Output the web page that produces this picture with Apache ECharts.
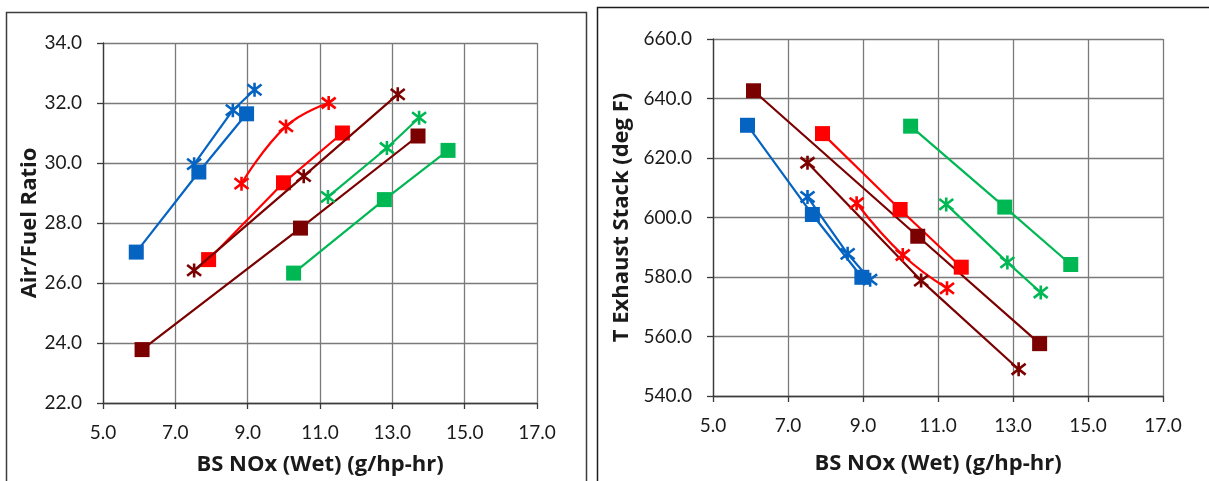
<!DOCTYPE html>
<html>
<head>
<meta charset="utf-8">
<script src="https://cdn.jsdelivr.net/npm/echarts@6/dist/echarts.min.js"></script>
<style>
html,body{margin:0;padding:0;background:#fff;}
#c{width:1209px;height:481px;}
</style>
</head>
<body>
<div id="c"></div>
<script>
// ---- Data (x = BS NOx wet, g/hp-hr) ----
const blueSqX   = [5.92, 7.65, 8.97];
const blueStX   = [7.52, 8.59, 9.19];
const redSqX    = [7.92, 9.99, 11.62];
const redStX    = [8.83, 10.06, 11.24];
const maroonSqX = [6.08, 10.46, 13.71];
const maroonStX = [7.52, 10.55, 13.15];
const greenSqX  = [10.27, 12.78, 14.54];
const greenStX  = [11.22, 12.85, 13.74];

// Left chart: Air/Fuel Ratio
const afBlueSq   = [27.03, 29.70, 31.64];
const afBlueSt   = [29.96, 31.76, 32.44];
const afRedSq    = [26.78, 29.34, 31.00];
const afRedSt    = [29.31, 31.22, 32.00];
const afMaroonSq = [23.78, 27.83, 30.90];
const afMaroonSt = [26.42, 29.56, 32.29];
const afGreenSq  = [26.33, 28.78, 30.42];
const afGreenSt  = [28.87, 30.50, 31.51];

// Right chart: T Exhaust Stack (deg F)
const tBlueSq   = [631.0, 601.0, 579.9];
const tBlueSt   = [606.9, 587.8, 579.1];
const tRedSq    = [628.2, 602.7, 583.3];
const tRedSt    = [604.8, 587.4, 576.2];
const tMaroonSq = [642.6, 593.7, 557.6];
const tMaroonSt = [618.4, 578.8, 549.0];
const tGreenSq  = [630.7, 603.5, 584.2];
const tGreenSt  = [604.4, 584.9, 574.8];

// Axis ranges / tick steps
const xRange = [5, 17, 2];
const afRange = [22, 34, 2];
const tRange = [540, 660, 20];

const xTitle = 'BS NOx (Wet) (g/hp-hr)';
const afTitle = 'Air/Fuel Ratio';
const tTitle = 'T Exhaust Stack (deg F)';

// ---- Styles ----
const C = {blue:'#0563C1', red:'#FF0000', maroon:'#7B0000', green:'#00B853'};
const FONT = 'Lato';
const TFONT = 'Open Sans';
const STAR = 'path://M0,0L10,10M10,0L0,10M5,-1.5L5,11.5';

function zip(xs, ys){ return xs.map((x,i)=>[x, ys[i]]); }

function mkSeries(gi, name, xs, ys, color, kind, smooth){
  const isSq = kind === 'sq';
  return {
    name, type:'line', xAxisIndex:gi, yAxisIndex:gi,
    data: zip(xs, ys),
    smooth: smooth ? 0.45 : false,
    symbol: isSq ? 'rect' : STAR,
    symbolSize: isSq ? 15 : 14,
    lineStyle:{color, width:2.2},
    itemStyle: isSq ? {color, borderColor:color, borderWidth:0}
                    : {color:'rgba(0,0,0,0)', borderColor:color, borderWidth:2.6},
    emphasis:{disabled:true},
    animation:false, z: isSq ? 3 : 4
  };
}

function xAxisCfg(gi, gap){
  return {
    type:'value', gridIndex:gi, min:xRange[0], max:xRange[1], interval:xRange[2],
    name:xTitle, nameLocation:'middle', nameGap:gap,
    nameTextStyle:{fontFamily:TFONT, fontWeight:'bold', fontSize:22, color:'#1a1a1a'},
    axisLine:{show:true, onZero:false, lineStyle:{color:'#3a3a3a', width:1.3}},
    axisTick:{show:true, inside:false, length:6, lineStyle:{color:'#3a3a3a', width:1.3}},
    axisLabel:{fontFamily:FONT, fontSize:19, color:'#1a1a1a', margin:20,
      formatter:v=>v.toFixed(1)},
    splitLine:{show:true, lineStyle:{color:'#7a7a7a', width:1.3}}
  };
}
function yAxisCfg(gi, r, title, gap){
  return {
    type:'value', gridIndex:gi, min:r[0], max:r[1], interval:r[2],
    name:title, nameLocation:'middle', nameGap:gap, nameRotate:90,
    nameTextStyle:{fontFamily:TFONT, fontWeight:'bold', fontSize:22, color:'#1a1a1a'},
    axisLine:{show:true, onZero:false, lineStyle:{color:'#3a3a3a', width:1.3}},
    axisTick:{show:true, inside:false, length:6, lineStyle:{color:'#3a3a3a', width:1.3}},
    axisLabel:{fontFamily:FONT, fontSize:19, color:'#1a1a1a', margin:21,
      formatter:v=>v.toFixed(1)},
    splitLine:{show:true, lineStyle:{color:'#7a7a7a', width:1.3}}
  };
}

const chart = echarts.init(document.getElementById('c'), null, {renderer:'canvas'});
chart.setOption({
  backgroundColor:'#ffffff',
  animation:false,
  graphic:[
    {type:'rect', shape:{x:6.5, y:12.5, width:580, height:490}, silent:true,
     style:{fill:'none', stroke:'#3c3c3c', lineWidth:1.5}, z:-10},
    {type:'rect', shape:{x:597.5, y:7.5, width:630, height:490}, silent:true,
     style:{fill:'none', stroke:'#1c1c1c', lineWidth:1.5}, z:-10}
  ],
  grid:[
    {left:103, top:43, width:434, height:360},
    {left:713, top:39, width:450, height:357}
  ],
  xAxis:[xAxisCfg(0, 51), xAxisCfg(1, 57)],
  yAxis:[yAxisCfg(0, afRange, afTitle, 60), yAxisCfg(1, tRange, tTitle, 80)],
  series:[
    mkSeries(0,'blueSq', blueSqX, afBlueSq, C.blue,'sq'),
    mkSeries(0,'blueSt', blueStX, afBlueSt, C.blue,'st'),
    mkSeries(0,'redSq', redSqX, afRedSq, C.red,'sq'),
    mkSeries(0,'redSt', redStX, afRedSt, C.red,'st', true),
    mkSeries(0,'maroonSq', maroonSqX, afMaroonSq, C.maroon,'sq'),
    mkSeries(0,'maroonSt', maroonStX, afMaroonSt, C.maroon,'st'),
    mkSeries(0,'greenSq', greenSqX, afGreenSq, C.green,'sq'),
    mkSeries(0,'greenSt', greenStX, afGreenSt, C.green,'st'),
    mkSeries(1,'blueSq', blueSqX, tBlueSq, C.blue,'sq'),
    mkSeries(1,'blueSt', blueStX, tBlueSt, C.blue,'st'),
    mkSeries(1,'redSq', redSqX, tRedSq, C.red,'sq'),
    mkSeries(1,'redSt', redStX, tRedSt, C.red,'st', true),
    mkSeries(1,'maroonSq', maroonSqX, tMaroonSq, C.maroon,'sq'),
    mkSeries(1,'maroonSt', maroonStX, tMaroonSt, C.maroon,'st'),
    mkSeries(1,'greenSq', greenSqX, tGreenSq, C.green,'sq'),
    mkSeries(1,'greenSt', greenStX, tGreenSt, C.green,'st')
  ]
});
</script>
</body>
</html>
